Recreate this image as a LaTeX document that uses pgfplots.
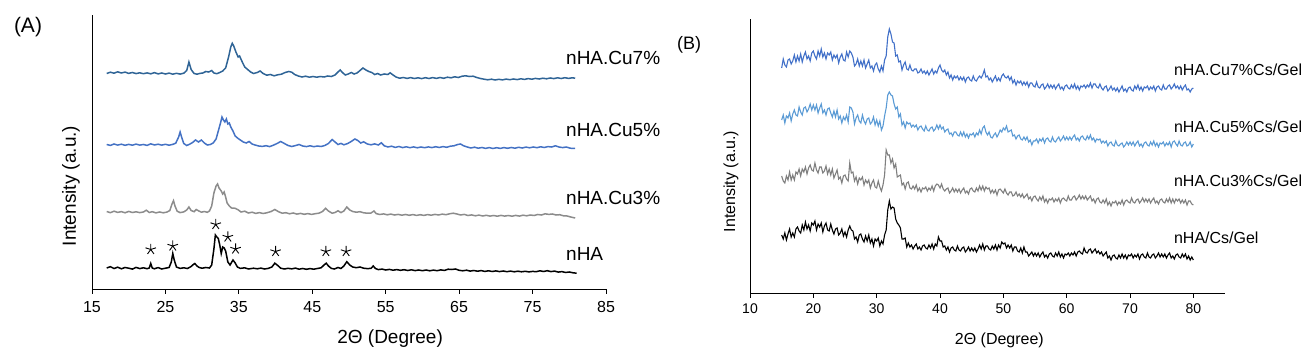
\documentclass[border=0pt]{standalone}
\usepackage{fontspec}
\setmainfont{Liberation Sans}
\usepackage{pgfplots}
\pgfplotsset{compat=1.18}
\definecolor{aseven}{HTML}{2F6496}
\definecolor{afive}{HTML}{4472C4}
\definecolor{athree}{HTML}{8C8C8C}
\definecolor{bseven}{HTML}{4170C8}
\definecolor{bfive}{HTML}{5B9BD5}
\definecolor{bthree}{HTML}{7F7F7F}
\begin{document}
\begin{tikzpicture}[x=1pt,y=1pt]
\useasboundingbox (0,0) rectangle (1307,356);
\node[font=\fontsize{21}{24}\selectfont] at (28,329) {(A)};
\node[font=\fontsize{18}{21}\selectfont] at (689,311) {(B)};
% ---------------- Panel A ----------------
\begin{axis}[
  at={(92pt,67pt)}, anchor=south west,
  scale only axis, width=514pt, height=274pt,
  xmin=15, xmax=85, ymin=0, ymax=274,
  axis lines=left, axis line style={-, line width=0.9pt},
  xtick={15,25,...,85}, ytick=\empty,
  xtick align=outside, major tick length=5pt,
  tick style={line width=0.9pt, black},
  /pgf/number format/assume math mode=true,
  ticklabel style={font=\fontsize{16}{19}\selectfont},
  xticklabel style={yshift=-4pt},
  xlabel={2Θ (Degree)}, ylabel={Intensity (a.u.)},
  label style={font=\fontsize{19}{22}\selectfont},
  xlabel style={at={(axis description cs:0.58,-0.182)}, anchor=center},
  ylabel style={at={(axis description cs:-0.041,0.376)}, anchor=center},
  clip=false,
]
% nHA
\addplot[black, line width=1.5pt] coordinates {
(17,21.0) (17.5,22.3) (18,20.5) (18.5,21.8) (19,20.2) (19.5,21.5) (20,20.8) (20.5,19.9) (21,21.6) (21.5,20.4) (22,21.2) (22.5,20.3) (22.8,21.0) (23.0,25.5) (23.2,21.0) (23.5,20.2) (24,21.4) (24.5,20.0) (25,20.8) (25.5,21.5) (25.8,27) (26.0,35.5) (26.2,29) (26.5,22.0) (27,20.6) (27.5,21.2) (28,20.5) (28.5,22.5) (28.8,24.5) (29.0,25.5) (29.3,23) (29.6,21.5) (30,20.8) (30.5,21.5) (31,21.0) (31.3,24) (31.6,40) (31.8,54) (32.0,52) (32.2,50.5) (32.4,44) (32.6,35.5) (32.8,42) (33.0,41) (33.2,38) (33.5,27) (33.8,24) (34.2,29) (34.5,26) (34.8,22) (35.2,20.6) (35.8,21.2) (36.3,20.0) (37,20.8) (37.5,20.2) (38,20.9) (38.5,20.0) (39,20.6) (39.5,22.0) (39.9,25.8) (40.3,23.5) (40.7,20.8) (41.2,20.0) (41.7,20.7) (42.2,20.1) (42.7,20.9) (43.2,19.8) (43.7,20.5) (44.2,19.7) (44.7,20.4) (45.2,19.8) (45.7,20.5) (46.2,21.2) (46.6,24) (46.9,25.8) (47.2,23) (47.6,20.6) (48.0,20.0) (48.5,21.5) (48.9,20.5) (49.3,23) (49.7,27.3) (50.1,24) (50.5,22) (51,21.3) (51.5,22.0) (52,20.8) (52.5,20.4) (53,20.6) (53.3,23) (53.6,20.5) (54,19.4) (54.5,19.9) (55,19.0) (55.5,19.6) (56,18.8) (56.5,19.4) (57,18.7) (57.5,19.3) (58,18.5) (58.5,19.2) (59,18.4) (59.5,19.0) (60,18.3) (60.5,19.0) (61,18.2) (61.5,18.9) (62,18.3) (62.5,19.1) (63,18.6) (63.5,19.8) (64,19.5) (64.5,20.0) (65,18.7) (65.5,18.2) (66,18.8) (66.5,17.9) (67,18.5) (67.5,17.8) (68,18.4) (68.5,17.6) (69,18.2) (69.5,17.5) (70,18.1) (70.5,17.4) (71,18.0) (71.5,17.3) (72,17.9) (72.5,17.2) (73,17.8) (73.5,17.2) (74,17.7) (74.5,17.1) (75,17.6) (75.5,17.3) (76,18.2) (76.5,17.5) (77,18.3) (77.5,17.4) (78,17.9) (78.5,16.9) (79,17.4) (79.5,16.5) (80,17.0) (80.5,16.2) (81,15.8)
};
% stars
\addplot[only marks, mark=star, mark size=5.5pt, black, mark options={line width=0.9pt}] coordinates {
(23.0,39.5) (26.0,43) (31.85,64.5) (33.5,52) (34.55,40) (40.0,37.5) (46.85,37.5) (49.6,37.5)
};
% nHA.Cu3%
\addplot[athree, line width=1.5pt] coordinates {
(17.0,77.5) (17.5,76.3) (18.0,77.8) (18.5,76.6) (19.0,77.4) (19.5,76.2) (20.0,77.6) (20.5,76.5) (21.0,77.2) (21.5,76.4) (22.0,77.0) (22.4,78.8) (22.8,76.5) (23.2,77.3) (23.7,76.1) (24.2,77.0) (24.7,76.2) (25.2,76.9) (25.6,78.5) (25.9,85.0) (26.1,88.3) (26.3,83) (26.6,77.8) (27.0,76.4) (27.5,77.1) (27.9,79) (28.2,82.0) (28.5,78.5) (28.9,77.3) (29.2,79.5) (29.5,78.2) (29.9,76.8) (30.3,77.5) (30.7,76.7) (31.0,78.0) (31.3,83) (31.6,96) (31.9,103) (32.1,105) (32.3,101) (32.6,98) (32.8,95) (33.0,97) (33.2,92) (33.4,86) (33.7,83) (34.0,81) (34.5,80.7) (34.9,79.2) (35.3,77.0) (35.8,77.8) (36.3,76.0) (36.8,76.8) (37.3,75.6) (37.8,76.4) (38.3,75.5) (38.8,76.2) (39.4,77.5) (39.9,79.5) (40.4,77.3) (40.9,75.8) (41.4,76.3) (41.9,75.2) (42.4,76.0) (42.9,74.9) (43.4,75.6) (43.9,74.7) (44.4,75.4) (44.9,74.6) (45.4,75.3) (45.9,75.8) (46.4,77.5) (46.8,80.7) (47.2,78.0) (47.7,75.8) (48.1,76.5) (48.5,78.2) (48.9,76.4) (49.3,78.0) (49.7,82.0) (50.1,79.0) (50.5,77.5) (51.0,76.8) (51.5,77.3) (52.0,76.2) (52.5,75.8) (53.0,76.0) (53.4,78.0) (53.7,75.4) (54.2,74.5) (54.7,75.1) (55.2,74.2) (55.7,74.9) (56.2,74.0) (56.7,74.6) (57.2,73.8) (57.7,74.5) (58.2,73.7) (58.7,74.4) (59.2,73.6) (59.7,74.3) (60.2,73.6) (60.7,74.4) (61.2,73.8) (61.7,74.6) (62.2,74.0) (62.7,74.9) (63.2,74.3) (63.7,75.2) (64.2,75.8) (64.7,75.0) (65.2,74.0) (65.7,74.6) (66.2,73.5) (66.7,74.1) (67.2,73.2) (67.7,73.9) (68.2,73.0) (68.7,73.7) (69.2,72.9) (69.7,73.5) (70.2,72.8) (70.7,73.6) (71.2,72.9) (71.7,73.5) (72.2,72.8) (72.7,73.6) (73.2,72.9) (73.7,73.8) (74.2,73.2) (74.7,74.0) (75.2,73.5) (75.7,74.5) (76.2,74.0) (76.7,75.2) (77.2,74.6) (77.7,75.0) (78.2,74.0) (78.7,74.3) (79.2,73.2) (79.7,73.0) (80.2,72.0) (80.8,71.0)
};
% nHA.Cu5%
\addplot[afive, line width=1.5pt] coordinates {
(17.0,144.5) (17.5,143.6) (18.0,145.0) (18.5,143.9) (19.0,144.8) (19.5,143.7) (20.0,144.6) (20.5,143.8) (21.0,144.9) (21.5,143.9) (22.0,144.5) (22.5,143.6) (23.0,145.2) (23.5,144.0) (24.0,144.8) (24.5,143.9) (25.0,144.7) (25.5,143.8) (26.0,144.6) (26.4,145.8) (26.8,152) (27.0,157) (27.2,152) (27.5,145.5) (27.9,143.5) (28.3,144.8) (28.7,146.5) (29.1,149) (29.5,147) (29.9,149) (30.3,146) (30.7,144) (31.1,144.5) (31.5,146) (31.9,150) (32.2,158) (32.5,166) (32.7,172) (32.9,169) (33.1,167) (33.3,170) (33.5,165) (33.7,166) (33.9,162) (34.2,158) (34.5,153) (34.9,150.5) (35.2,149) (35.6,147) (36.0,146) (36.4,147.5) (36.8,145) (37.2,144) (37.7,143) (38.2,142.6) (38.7,143.3) (39.2,142.4) (39.7,143.8) (40.2,145.5) (40.7,147.5) (41.2,145.5) (41.7,143.5) (42.2,142.5) (42.7,143.4) (43.2,144.5) (43.7,143.0) (44.2,142.4) (44.7,143.2) (45.2,142.3) (45.7,143.0) (46.2,142.5) (46.7,143.5) (47.2,145.5) (47.7,149.5) (48.1,147.0) (48.5,144.5) (48.9,145.6) (49.3,144.2) (49.8,145.4) (50.3,147.5) (50.8,150.0) (51.2,148.5) (51.6,146.0) (52.0,147.2) (52.5,145.0) (53.0,144.2) (53.5,145.1) (54.0,144.0) (54.4,146.2) (54.8,143.2) (55.3,142.0) (55.8,142.8) (56.3,141.6) (56.8,142.5) (57.3,141.4) (57.8,142.2) (58.3,141.3) (58.8,142.1) (59.3,141.2) (59.8,142.0) (60.3,141.3) (60.8,142.1) (61.3,141.4) (61.8,142.3) (62.3,141.5) (62.8,142.4) (63.3,141.7) (63.8,142.8) (64.3,143.2) (64.8,144.5) (65.2,145.0) (65.6,143.2) (66.1,142.0) (66.6,141.0) (67.1,141.8) (67.6,140.8) (68.1,141.5) (68.6,140.6) (69.1,141.4) (69.6,140.5) (70.1,141.3) (70.6,140.6) (71.1,141.4) (71.6,140.7) (72.1,141.5) (72.6,140.8) (73.1,141.7) (73.6,141.0) (74.1,141.9) (74.6,141.2) (75.1,142.0) (75.6,141.3) (76.1,142.2) (76.6,141.5) (77.1,142.4) (77.6,142.0) (78.1,143.2) (78.6,142.0) (79.1,141.4) (79.6,142.0) (80.1,140.8) (80.8,140.5)
};
% nHA.Cu7%
\addplot[aseven, line width=1.5pt] coordinates {
(17.0,215.5) (17.5,216.8) (18.0,215.8) (18.5,217.2) (19.0,216.0) (19.5,216.9) (20.0,215.6) (20.5,216.5) (21.0,215.4) (21.5,216.2) (22.0,215.3) (22.5,216.1) (23.0,215.2) (23.5,216.4) (24.0,215.1) (24.5,216.0) (25.0,215.0) (25.5,215.9) (26.0,214.8) (26.5,215.7) (27.0,214.9) (27.5,215.8) (27.9,218.5) (28.2,227) (28.5,219.5) (28.9,215.5) (29.3,214.8) (29.7,215.6) (30.1,216) (30.5,217.5) (30.9,217) (31.3,218.5) (31.6,216) (32.0,215.3) (32.4,216.5) (32.8,218) (33.2,221) (33.6,232) (33.9,242) (34.1,245.7) (34.3,243) (34.6,237) (34.9,232) (35.1,233) (35.4,228) (35.8,222) (36.2,219.5) (36.6,217) (37.0,215.5) (37.5,216.5) (37.9,218) (38.3,215.5) (38.8,213.8) (39.3,214.5) (39.8,213.2) (40.3,214.2) (40.8,214.8) (41.3,216.5) (41.8,217.5) (42.2,216.8) (42.6,214.5) (43.1,213.0) (43.6,212.0) (44.1,212.8) (44.6,211.8) (45.1,212.5) (45.6,211.8) (46.1,212.5) (46.6,212.0) (47.1,213.0) (47.6,212.5) (48.1,214) (48.5,217) (48.8,219) (49.1,216.5) (49.5,214) (49.9,215) (50.3,216.5) (50.7,215) (51.1,216) (51.5,218.5) (51.9,221) (52.3,219) (52.7,217.5) (53.1,216.5) (53.5,214.5) (53.9,215.5) (54.3,214.0) (54.8,215.0) (55.3,214.5) (55.6,216.2) (56.0,214.0) (56.4,212.0) (56.9,210.8) (57.4,211.5) (57.9,210.6) (58.4,211.4) (58.9,210.5) (59.4,211.2) (59.9,210.4) (60.4,211.3) (60.9,210.5) (61.4,211.4) (61.9,210.6) (62.4,211.5) (62.9,210.7) (63.4,211.8) (63.9,211.2) (64.4,212.2) (64.9,211.5) (65.4,212.8) (65.9,213.2) (66.4,212.5) (66.9,212.8) (67.4,211.5) (67.9,210.5) (68.4,209.8) (68.9,209.2) (69.4,209.8) (69.9,209.0) (70.4,209.7) (70.9,209.1) (71.4,209.9) (71.9,209.3) (72.4,210.0) (72.9,209.4) (73.4,210.2) (73.9,209.6) (74.4,210.4) (74.9,209.8) (75.4,210.6) (75.9,210.0) (76.4,210.8) (76.9,210.2) (77.4,211.0) (77.9,210.4) (78.4,211.2) (78.9,210.5) (79.4,211.3) (79.9,210.6) (80.4,211.2) (80.8,210.8)
};
\node[anchor=west, font=\fontsize{19}{22}\selectfont] at (axis cs:79.1,231) {nHA.Cu7\%};
\node[anchor=west, font=\fontsize{19}{22}\selectfont] at (axis cs:79.1,159) {nHA.Cu5\%};
\node[anchor=west, font=\fontsize{19}{22}\selectfont] at (axis cs:79.1,91) {nHA.Cu3\%};
\node[anchor=west, font=\fontsize{19}{22}\selectfont] at (axis cs:79.1,35) {nHA};
\end{axis}
% ---------------- Panel B ----------------
\begin{axis}[
  at={(750pt,63pt)}, anchor=south west,
  scale only axis, width=475pt, height=274pt,
  xmin=10, xmax=85, ymin=0, ymax=274,
  axis lines=left, axis line style={-, line width=0.9pt},
  xtick={10,20,...,80}, ytick=\empty,
  xtick align=outside, major tick length=5pt,
  tick style={line width=0.9pt, black},
  /pgf/number format/assume math mode=true,
  ticklabel style={font=\fontsize{14}{17}\selectfont},
  xticklabel style={yshift=-2pt},
  xlabel={2Θ (Degree)}, ylabel={Intensity (a.u.)},
  label style={font=\fontsize{16}{19}\selectfont},
  xlabel style={at={(axis description cs:0.525,-0.172)}, anchor=center},
  ylabel style={at={(axis description cs:-0.040,0.407)}, anchor=center},
  clip=false,
]
% nHA/Cs/Gel
\addplot[black, line width=1.1pt] coordinates {
(15,58) (15.25,54) (15.5,60) (15.75,53) (16,59) (16.25,64) (16.5,56) (16.75,60) (17,56) (17.25,64) (17.5,66) (17.75,62) (18,60) (18.25,68) (18.5,63) (18.75,71) (19,64) (19.25,68) (19.5,62) (19.75,70) (20,68) (20.25,72) (20.5,63) (20.75,69) (21,66) (21.25,70) (21.5,61) (21.75,67) (22,70) (22.25,63) (22.5,62) (22.75,69) (23,63) (23.25,59) (23.5,64) (23.75,65) (24,58) (24.25,60) (24.5,64) (24.75,57) (25,61) (25.25,56) (25.5,63) (25.75,67) (26,63) (26.25,62) (26.5,54) (26.75,56) (27,51) (27.25,58) (27.5,59) (27.75,54) (28,51) (28.25,57) (28.5,52) (28.75,58) (29,50) (29.25,54) (29.5,47) (29.75,54) (30,52) (30.25,55) (30.5,47) (30.75,52) (31,49) (31.25,58) (31.5,63) (31.75,83) (32,92) (32.25,84) (32.5,86) (32.75,85) (33,74) (33.25,70) (33.5,68) (33.75,65) (34,54) (34.25,54) (34.5,55) (34.75,46) (35,50) (35.25,46) (35.5,48) (35.75,44) (36,47) (36.25,49) (36.5,44) (36.75,46) (37,43) (37.25,47) (37.5,48) (37.75,45) (38,44) (38.25,48) (38.5,45) (38.75,49) (39,44) (39.25,49) (39.5,47) (39.75,56) (40,52) (40.25,52) (40.5,46) (40.75,47) (41,43) (41.25,46) (41.5,41) (41.75,45) (42,46) (42.25,43) (42.5,42) (42.75,47) (43,43) (43.25,42) (43.5,45) (43.75,46) (44,41) (44.25,43) (44.5,46) (44.75,42) (45,45) (45.25,42) (45.5,45) (45.75,41) (46,44) (46.25,48) (46.5,44) (46.75,49) (47,43) (47.25,47) (47.5,47) (47.75,44) (48,43) (48.25,47) (48.5,44) (48.75,48) (49,43) (49.25,48) (49.5,45) (49.75,51) (50,49) (50.25,50) (50.5,45) (50.75,48) (51,45) (51.25,48) (51.5,42) (51.75,46) (52,46) (52.25,42) (52.5,41) (52.75,45) (53,40) (53.25,46) (53.5,41) (53.75,41) (54,37) (54.25,39) (54.5,41) (54.75,37) (55,40) (55.25,37) (55.5,40) (55.75,36) (56,39) (56.25,41) (56.5,36) (56.75,38) (57,35) (57.25,39) (57.5,40) (57.75,37) (58,36) (58.25,40) (58.5,37) (58.75,41) (59,36) (59.25,39) (59.5,35) (59.75,39) (60,38) (60.25,40) (60.5,37) (60.75,40) (61,38) (61.25,41) (61.5,37) (61.75,41) (62,42) (62.25,40) (62.5,39) (62.75,45) (63,41) (63.25,40) (63.5,43) (63.75,44) (64,40) (64.25,42) (64.5,44) (64.75,40) (65,42) (65.25,39) (65.5,41) (65.75,37) (66,39) (66.25,41) (66.5,35) (66.75,37) (67,33) (67.25,37) (67.5,38) (67.75,35) (68,34) (68.25,38) (68.5,35) (68.75,39) (69,35) (69.25,38) (69.5,34) (69.75,38) (70,37) (70.25,39) (70.5,35) (70.75,38) (71,36) (71.25,39) (71.5,34) (71.75,38) (72,39) (72.25,36) (72.5,35) (72.75,40) (73,36) (73.25,35) (73.5,38) (73.75,39) (74,35) (74.25,37) (74.5,40) (74.75,36) (75,39) (75.25,36) (75.5,39) (75.75,35) (76,38) (76.25,40) (76.5,35) (76.75,37) (77,34) (77.25,38) (77.5,39) (77.75,36) (78,35) (78.25,39) (78.5,36) (78.75,39) (79,34) (79.25,37) (79.5,33) (79.75,36) (80,33)
};
% nHA.Cu3%Cs/Gel
\addplot[bthree, line width=1.1pt] coordinates {
(15,117) (15.25,112) (15.5,110) (15.75,117) (16,113) (16.25,121) (16.5,113) (16.75,118) (17,113) (17.25,121) (17.5,119) (17.75,124) (18,117) (18.25,124) (18.5,121) (18.75,126) (19,119) (19.25,125) (19.5,128) (19.75,123) (20,122) (20.25,130) (20.5,123) (20.75,120) (21,126) (21.25,126) (21.5,120) (21.75,122) (22,127) (22.25,119) (22.5,124) (22.75,118) (23,124) (23.25,115) (23.5,119) (23.75,123) (24,114) (24.25,116) (24.5,110) (24.75,117) (25,118) (25.25,114) (25.5,112) (25.75,130) (26,120) (26.25,121) (26.5,112) (26.75,116) (27,109) (27.25,115) (27.5,113) (27.75,116) (28,108) (28.25,113) (28.5,110) (28.75,113) (29,105) (29.25,110) (29.5,113) (29.75,106) (30,105) (30.25,112) (30.5,106) (30.75,102) (31,108) (31.25,118) (31.5,143) (31.75,138) (32,138) (32.25,130) (32.5,134) (32.75,125) (33,129) (33.25,116) (33.5,117) (33.75,118) (34,108) (34.25,110) (34.5,104) (34.75,110) (35,111) (35.25,105) (35.5,104) (35.75,107) (36,104) (36.25,108) (36.5,102) (36.75,105) (37,101) (37.25,105) (37.5,104) (37.75,106) (38,102) (38.25,105) (38.5,103) (38.75,107) (39,102) (39.25,107) (39.5,109) (39.75,108) (40,105) (40.25,109) (40.5,104) (40.75,102) (41,104) (41.25,105) (41.5,100) (41.75,102) (42,105) (42.25,101) (42.5,104) (42.75,101) (43,104) (43.25,100) (43.5,103) (43.75,105) (44,100) (44.25,102) (44.5,99) (44.75,104) (45,105) (45.25,102) (45.5,101) (45.75,105) (46,102) (46.25,107) (46.5,103) (46.75,107) (47,102) (47.25,106) (47.5,104) (47.75,105) (48,100) (48.25,103) (48.5,100) (48.75,103) (49,98) (49.25,103) (49.5,104) (49.75,102) (50,100) (50.25,104) (50.5,100) (50.75,98) (51,101) (51.25,101) (51.5,97) (51.75,98) (52,101) (52.25,97) (52.5,99) (52.75,96) (53,99) (53.25,95) (53.5,97) (53.75,99) (54,94) (54.25,96) (54.5,92) (54.75,96) (55,97) (55.25,94) (55.5,92) (55.75,96) (56,93) (56.25,97) (56.5,91) (56.75,94) (57,90) (57.25,94) (57.5,93) (57.75,95) (58,91) (58.25,94) (58.5,92) (58.75,95) (59,90) (59.25,94) (59.5,95) (59.75,93) (60,92) (60.25,97) (60.5,93) (60.75,93) (61,96) (61.25,97) (61.5,93) (61.75,95) (62,98) (62.25,94) (62.5,97) (62.75,94) (63,97) (63.25,93) (63.5,95) (63.75,97) (64,92) (64.25,94) (64.5,90) (64.75,94) (65,95) (65.25,91) (65.5,90) (65.75,93) (66,90) (66.25,94) (66.5,88) (66.75,91) (67,87) (67.25,91) (67.5,90) (67.75,92) (68,88) (68.25,91) (68.5,89) (68.75,93) (69,88) (69.25,92) (69.5,93) (69.75,91) (70,90) (70.25,95) (70.5,91) (70.75,90) (71,93) (71.25,94) (71.5,90) (71.75,92) (72,95) (72.25,91) (72.5,94) (72.75,91) (73,94) (73.25,90) (73.5,93) (73.75,95) (74,90) (74.25,92) (74.5,89) (74.75,93) (75,94) (75.25,91) (75.5,90) (75.75,94) (76,91) (76.25,95) (76.5,90) (76.75,94) (77,90) (77.25,94) (77.5,92) (77.75,94) (78,90) (78.25,93) (78.5,90) (78.75,93) (79,88) (79.25,92) (79.5,92) (79.75,89) (80,88)
};
% nHA.Cu5%Cs/Gel
\addplot[bfive, line width=1.1pt] coordinates {
(15,173) (15.25,178) (15.5,170) (15.75,177) (16,175) (16.25,180) (16.5,172) (16.75,179) (17,183) (17.25,178) (17.5,177) (17.75,186) (18,181) (18.25,178) (18.5,185) (18.75,186) (19,181) (19.25,184) (19.5,189) (19.75,183) (20,188) (20.25,183) (20.5,188) (20.75,180) (21,185) (21.25,189) (21.5,180) (21.75,183) (22,178) (22.25,184) (22.5,185) (22.75,180) (23,176) (23.25,182) (23.5,176) (23.75,183) (24,174) (24.25,177) (24.5,170) (24.75,176) (25,173) (25.25,178) (25.5,171) (25.75,186) (26,185) (26.25,181) (26.5,169) (26.75,175) (27,178) (27.25,172) (27.5,170) (27.75,178) (28,172) (28.25,169) (28.5,174) (28.75,175) (29,169) (29.25,171) (29.5,176) (29.75,168) (30,173) (30.25,167) (30.5,172) (30.75,163) (31,167) (31.25,177) (31.5,185) (31.75,198) (32,201) (32.25,198) (32.5,197) (32.75,189) (33,184) (33.25,186) (33.5,176) (33.75,179) (34,168) (34.25,171) (34.5,165) (34.75,171) (35,169) (35.25,170) (35.5,166) (35.75,168) (36,166) (36.25,168) (36.5,163) (36.75,166) (37,167) (37.25,164) (37.5,162) (37.75,167) (38,163) (38.25,162) (38.5,165) (38.75,166) (39,162) (39.25,164) (39.5,168) (39.75,164) (40,168) (40.25,164) (40.5,166) (40.75,161) (41,163) (41.25,164) (41.5,159) (41.75,160) (42,157) (42.25,161) (42.5,161) (42.75,158) (43,157) (43.25,161) (43.5,157) (43.75,161) (44,156) (44.25,159) (44.5,155) (44.75,159) (45,158) (45.25,160) (45.5,156) (45.75,160) (46,158) (46.25,163) (46.5,159) (46.75,165) (47,167) (47.25,161) (47.5,158) (47.75,161) (48,156) (48.25,155) (48.5,158) (48.75,160) (49,156) (49.25,159) (49.5,163) (49.75,161) (50,165) (50.25,163) (50.5,167) (50.75,161) (51,162) (51.25,163) (51.5,157) (51.75,158) (52,154) (52.25,157) (52.5,158) (52.75,154) (53,153) (53.25,156) (53.5,153) (53.75,156) (54,151) (54.25,153) (54.5,148) (54.75,152) (55,152) (55.25,154) (55.5,150) (55.75,154) (56,152) (56.25,155) (56.5,150) (56.75,154) (57,155) (57.25,152) (57.5,151) (57.75,156) (58,152) (58.25,151) (58.5,154) (58.75,156) (59,152) (59.25,154) (59.5,157) (59.75,153) (60,156) (60.25,153) (60.5,156) (60.75,153) (61,156) (61.25,158) (61.5,153) (61.75,155) (62,152) (62.25,156) (62.5,157) (62.75,154) (63,153) (63.25,157) (63.5,154) (63.75,158) (64,153) (64.25,155) (64.5,151) (64.75,154) (65,153) (65.25,154) (65.5,150) (65.75,152) (66,150) (66.25,152) (66.5,147) (66.75,150) (67,151) (67.25,148) (67.5,147) (67.75,152) (68,148) (68.25,147) (68.5,149) (68.75,150) (69,146) (69.25,148) (69.5,151) (69.75,148) (70,151) (70.25,148) (70.5,151) (70.75,147) (71,150) (71.25,152) (71.5,147) (71.75,149) (72,146) (72.25,150) (72.5,151) (72.75,148) (73,147) (73.25,151) (73.5,148) (73.75,152) (74,147) (74.25,150) (74.5,146) (74.75,150) (75,149) (75.25,151) (75.5,147) (75.75,150) (76,148) (76.25,151) (76.5,146) (76.75,151) (77,152) (77.25,149) (77.5,147) (77.75,152) (78,148) (78.25,147) (78.5,150) (78.75,151) (79,147) (79.25,148) (79.5,151) (79.75,146) (80,149)
};
% nHA.Cu7%Cs/Gel
\addplot[bseven, line width=1.1pt] coordinates {
(15,225) (15.25,234) (15.5,228) (15.75,226) (16,233) (16.25,234) (16.5,229) (16.75,232) (17,238) (17.25,231) (17.5,237) (17.75,232) (18,239) (18.25,231) (18.5,237) (18.75,241) (19,234) (19.25,237) (19.5,232) (19.75,240) (20,242) (20.25,237) (20.5,234) (20.75,242) (21,237) (21.25,244) (21.5,236) (21.75,240) (22,234) (22.25,240) (22.5,238) (22.75,241) (23,233) (23.25,238) (23.5,235) (23.75,238) (24,230) (24.25,236) (24.5,239) (24.75,233) (25,232) (25.25,241) (25.5,236) (25.75,242) (26,240) (26.25,236) (26.5,227) (26.75,229) (27,234) (27.25,227) (27.5,232) (27.75,227) (28,233) (28.25,225) (28.5,229) (28.75,233) (29,225) (29.25,227) (29.5,222) (29.75,228) (30,230) (30.25,224) (30.5,221) (30.75,227) (31,222) (31.25,233) (31.5,237) (31.75,256) (32,264) (32.25,259) (32.5,251) (32.75,250) (33,237) (33.25,238) (33.5,231) (33.75,232) (34,223) (34.25,228) (34.5,231) (34.75,224) (35,223) (35.25,228) (35.5,223) (35.75,222) (36,224) (36.25,224) (36.5,220) (36.75,221) (37,224) (37.25,220) (37.5,222) (37.75,219) (38,222) (38.25,218) (38.5,221) (38.75,224) (39,219) (39.25,222) (39.5,220) (39.75,225) (40,228) (40.25,223) (40.5,221) (40.75,223) (41,218) (41.25,221) (41.5,215) (41.75,218) (42,213) (42.25,217) (42.5,215) (42.75,217) (43,213) (43.25,216) (43.5,213) (43.75,216) (44,211) (44.25,215) (44.5,216) (44.75,213) (45,212) (45.25,217) (45.5,213) (45.75,212) (46,215) (46.25,217) (46.5,215) (46.75,218) (47,223) (47.25,216) (47.5,217) (47.75,213) (48,215) (48.25,211) (48.5,214) (48.75,217) (49,212) (49.25,215) (49.5,212) (49.75,217) (50,219) (50.25,216) (50.5,215) (50.75,217) (51,213) (51.25,216) (51.5,210) (51.75,213) (52,208) (52.25,212) (52.5,210) (52.75,212) (53,208) (53.25,211) (53.5,208) (53.75,211) (54,206) (54.25,210) (54.5,210) (54.75,207) (55,206) (55.25,211) (55.5,206) (55.75,205) (56,208) (56.25,209) (56.5,204) (56.75,206) (57,209) (57.25,205) (57.5,208) (57.75,205) (58,208) (58.25,204) (58.5,207) (58.75,209) (59,204) (59.25,206) (59.5,203) (59.75,207) (60,208) (60.25,205) (60.5,204) (60.75,208) (61,205) (61.25,209) (61.5,204) (61.75,207) (62,203) (62.25,207) (62.5,206) (62.75,208) (63,205) (63.25,208) (63.5,206) (63.75,210) (64,205) (64.25,209) (64.5,209) (64.75,206) (65,205) (65.25,209) (65.5,205) (65.75,203) (66,206) (66.25,207) (66.5,202) (66.75,204) (67,207) (67.25,203) (67.5,205) (67.75,202) (68,205) (68.25,201) (68.5,204) (68.75,207) (69,202) (69.25,204) (69.5,201) (69.75,205) (70,206) (70.25,203) (70.5,202) (70.75,207) (71,204) (71.25,208) (71.5,203) (71.75,206) (72,202) (72.25,206) (72.5,205) (72.75,207) (73,203) (73.25,206) (73.5,204) (73.75,207) (74,202) (74.25,206) (74.5,207) (74.75,204) (75,203) (75.25,208) (75.5,204) (75.75,204) (76,207) (76.25,208) (76.5,204) (76.75,206) (77,209) (77.25,205) (77.5,207) (77.75,204) (78,207) (78.25,203) (78.5,206) (78.75,208) (79,203) (79.25,204) (79.5,201) (79.75,204) (80,205)
};
\node[anchor=west, font=\fontsize{16}{19}\selectfont] at (axis cs:76.4,223) {nHA.Cu7\%Cs/Gel};
\node[anchor=west, font=\fontsize{16}{19}\selectfont] at (axis cs:76.4,166) {nHA.Cu5\%Cs/Gel};
\node[anchor=west, font=\fontsize{16}{19}\selectfont] at (axis cs:76.4,112) {nHA.Cu3\%Cs/Gel};
\node[anchor=west, font=\fontsize{16}{19}\selectfont] at (axis cs:76.4,55) {nHA/Cs/Gel};
\end{axis}
\end{tikzpicture}
\end{document}
